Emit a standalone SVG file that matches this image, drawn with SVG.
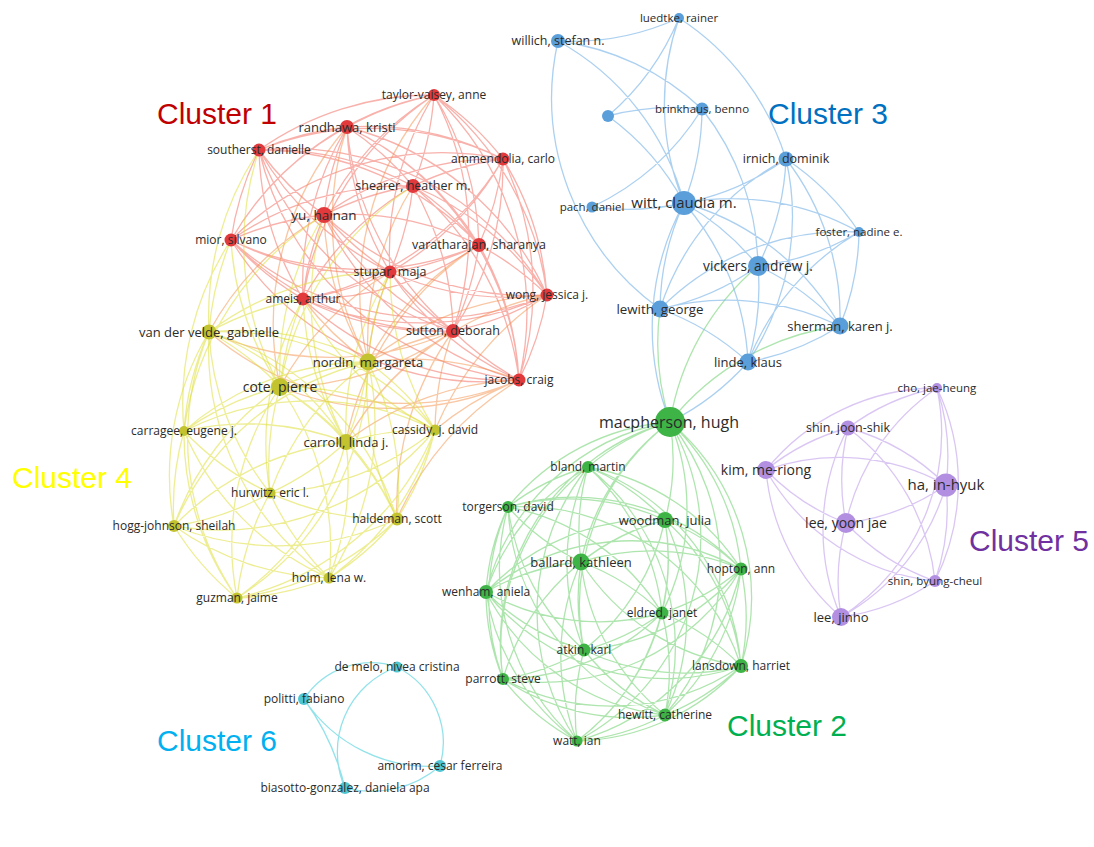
<svg xmlns="http://www.w3.org/2000/svg" width="1094" height="847" viewBox="0 0 1094 847">
<style>
.e{fill:none;stroke-width:1.3;stroke-linecap:round}
.e1{stroke:#f26458;stroke-opacity:.5}
.e7{stroke:#f39048;stroke-opacity:.5}
.e2{stroke:#6cd06c;stroke-opacity:.55}
.e3{stroke:#74b0e6;stroke-opacity:.6}
.e4{stroke:#dede3c;stroke-opacity:.55}
.e5{stroke:#c4a8ec;stroke-opacity:.65}
.e6{stroke:#80dde6;stroke-opacity:.85}
.c1{fill:#e23a3c}.c2{fill:#3db445}.c3{fill:#5b9fda}.c4{fill:#c3c330}.c5{fill:#b28fe0}.c6{fill:#4fc6d2}
text.l{font-family:"Open Sans","DejaVu Sans",sans-serif;fill:#2b2b2b;text-anchor:middle;font-size:12px}
text.t{font-family:"Liberation Sans",Arial,sans-serif;font-size:30px}
</style>
<rect width="1094" height="847" fill="#ffffff"/>
<g id="connectors">
<path class="e e1" d="M347 127A300 300 0 0 1 434 95M347 127A300 300 0 0 1 413 186M347 127A300 300 0 0 1 503 159M347 127A300 300 0 0 1 479 245M347 127A300 300 0 0 1 547 295M347 127A300 300 0 0 1 519 380M434 95A300 300 0 0 1 413 186M434 95A300 300 0 0 1 503 159M434 95A300 300 0 0 1 479 245M434 95A300 300 0 0 1 547 295M434 95A300 300 0 0 1 519 380M434 95A300 300 0 0 1 453 331M413 186A300 300 0 0 1 503 159M413 186A300 300 0 0 1 479 245M413 186A300 300 0 0 1 547 295M413 186A300 300 0 0 1 519 380M413 186A300 300 0 0 1 453 331M413 186A300 300 0 0 1 390 272M503 159A300 300 0 0 1 479 245M503 159A300 300 0 0 1 547 295M503 159A300 300 0 0 1 519 380M503 159A300 300 0 0 1 453 331M503 159A300 300 0 0 1 390 272M503 159A300 300 0 0 1 303 299M479 245A300 300 0 0 1 547 295M479 245A300 300 0 0 1 519 380M479 245A300 300 0 0 1 453 331M479 245A300 300 0 0 1 390 272M479 245A300 300 0 0 1 303 299M479 245A300 300 0 0 1 231 240M547 295A300 300 0 0 1 519 380M547 295A300 300 0 0 1 453 331M547 295A300 300 0 0 1 390 272M547 295A300 300 0 0 1 303 299M547 295A300 300 0 0 1 231 240M547 295A300 300 0 0 1 324 215M519 380A300 300 0 0 1 453 331M519 380A300 300 0 0 1 390 272M519 380A300 300 0 0 1 303 299M519 380A300 300 0 0 1 231 240M519 380A300 300 0 0 1 324 215M519 380A300 300 0 0 1 259 150M453 331A300 300 0 0 1 390 272M453 331A300 300 0 0 1 303 299M453 331A300 300 0 0 1 231 240M453 331A300 300 0 0 1 324 215M453 331A300 300 0 0 1 259 150M453 331A300 300 0 0 1 347 127M390 272A300 300 0 0 1 303 299M390 272A300 300 0 0 1 231 240M390 272A300 300 0 0 1 324 215M390 272A300 300 0 0 1 259 150M390 272A300 300 0 0 1 347 127M390 272A300 300 0 0 1 434 95M303 299A300 300 0 0 1 231 240M303 299A300 300 0 0 1 324 215M303 299A300 300 0 0 1 259 150M303 299A300 300 0 0 1 347 127M303 299A300 300 0 0 1 434 95M303 299A300 300 0 0 1 413 186M231 240A300 300 0 0 1 324 215M231 240A300 300 0 0 1 259 150M231 240A300 300 0 0 1 347 127M231 240A300 300 0 0 1 434 95M231 240A300 300 0 0 1 413 186M231 240A300 300 0 0 1 503 159M324 215A300 300 0 0 1 259 150M324 215A300 300 0 0 1 347 127M324 215A300 300 0 0 1 434 95M324 215A300 300 0 0 1 413 186M324 215A300 300 0 0 1 503 159M324 215A300 300 0 0 1 479 245M259 150A300 300 0 0 1 347 127M259 150A300 300 0 0 1 434 95M259 150A300 300 0 0 1 413 186M259 150A300 300 0 0 1 503 159M259 150A300 300 0 0 1 479 245M259 150A300 300 0 0 1 547 295"/>
<path class="e e7" d="M368 362A300 300 0 0 1 324 215M368 362A300 300 0 0 1 390 272M368 362A300 300 0 0 1 303 299M368 362A300 300 0 0 1 453 331M368 362A300 300 0 0 1 519 380M368 362A300 300 0 0 1 479 245M368 362A300 300 0 0 1 413 186M368 362A300 300 0 0 1 547 295M368 362A300 300 0 0 1 347 127M368 362A300 300 0 0 1 434 95M519 380A300 300 0 0 1 280 387M453 331A300 300 0 0 1 280 387M519 380A300 300 0 0 1 209 332M453 331A300 300 0 0 1 209 332M280 387A300 300 0 0 1 347 127M346 442A300 300 0 0 1 453 331M346 442A300 300 0 0 1 519 380M346 442A300 300 0 0 1 479 245M346 442A300 300 0 0 1 547 295M435 430A300 300 0 0 1 453 331M435 430A300 300 0 0 1 519 380M435 430A300 300 0 0 1 547 295M397 519A300 300 0 0 1 519 380M397 519A300 300 0 0 1 453 331M280 387A300 300 0 0 1 390 272M209 332A300 300 0 0 1 324 215"/>
<path class="e e4" d="M280 387A280 280 0 0 1 368 362M280 387A280 280 0 0 1 346 442M280 387A280 280 0 0 1 435 430M280 387A280 280 0 0 1 397 519M280 387A280 280 0 0 1 329 578M368 362A280 280 0 0 1 346 442M368 362A280 280 0 0 1 435 430M368 362A280 280 0 0 1 397 519M368 362A280 280 0 0 1 329 578M368 362A280 280 0 0 1 237 598M346 442A280 280 0 0 1 435 430M346 442A280 280 0 0 1 397 519M346 442A280 280 0 0 1 329 578M346 442A280 280 0 0 1 237 598M346 442A280 280 0 0 1 270 493M435 430A280 280 0 0 1 397 519M435 430A280 280 0 0 1 329 578M435 430A280 280 0 0 1 237 598M435 430A280 280 0 0 1 270 493M435 430A280 280 0 0 1 174 526M397 519A280 280 0 0 1 329 578M397 519A280 280 0 0 1 237 598M397 519A280 280 0 0 1 270 493M397 519A280 280 0 0 1 174 526M397 519A280 280 0 0 1 184 431M329 578A280 280 0 0 1 237 598M329 578A280 280 0 0 1 270 493M329 578A280 280 0 0 1 174 526M329 578A280 280 0 0 1 184 431M329 578A280 280 0 0 1 209 332M237 598A280 280 0 0 1 270 493M237 598A280 280 0 0 1 174 526M237 598A280 280 0 0 1 184 431M237 598A280 280 0 0 1 209 332M237 598A280 280 0 0 1 280 387M270 493A280 280 0 0 1 174 526M270 493A280 280 0 0 1 184 431M270 493A280 280 0 0 1 209 332M270 493A280 280 0 0 1 280 387M270 493A280 280 0 0 1 368 362M174 526A280 280 0 0 1 184 431M174 526A280 280 0 0 1 209 332M174 526A280 280 0 0 1 280 387M174 526A280 280 0 0 1 368 362M174 526A280 280 0 0 1 346 442M184 431A280 280 0 0 1 209 332M184 431A280 280 0 0 1 280 387M184 431A280 280 0 0 1 368 362M184 431A280 280 0 0 1 346 442M184 431A280 280 0 0 1 435 430M209 332A280 280 0 0 1 280 387M209 332A280 280 0 0 1 368 362M209 332A280 280 0 0 1 346 442M209 332A280 280 0 0 1 435 430M209 332A280 280 0 0 1 397 519"/>
<path class="e e4" d="M209 332A300 300 0 0 1 231 240M209 332A300 300 0 0 1 259 150M209 332A300 300 0 0 1 303 299M209 332A300 300 0 0 1 390 272M280 387A300 300 0 0 1 324 215M280 387A300 300 0 0 1 303 299M280 387A300 300 0 0 1 231 240M280 387A300 300 0 0 1 259 150M280 387A300 300 0 0 1 413 186M184 431A300 300 0 0 1 231 240M184 431A300 300 0 0 1 324 215M346 442A300 300 0 0 1 390 272M346 442A300 300 0 0 1 303 299M346 442A300 300 0 0 1 324 215M435 430A300 300 0 0 1 390 272M435 430A300 300 0 0 1 303 299M270 493A300 300 0 0 1 303 299M397 519A300 300 0 0 1 390 272"/>
<path class="e e2" d="M588 467A230 230 0 0 1 670 422M588 467A230 230 0 0 1 665 520M588 467A230 230 0 0 1 741 569M588 467A230 230 0 0 1 662 613M588 467A230 230 0 0 1 741 666M588 467A230 230 0 0 1 665 715M670 422A230 230 0 0 1 665 520M670 422A230 230 0 0 1 741 569M670 422A230 230 0 0 1 662 613M670 422A230 230 0 0 1 741 666M670 422A230 230 0 0 1 665 715M670 422A230 230 0 0 1 577 741M665 520A230 230 0 0 1 741 569M665 520A230 230 0 0 1 662 613M665 520A230 230 0 0 1 741 666M665 520A230 230 0 0 1 665 715M665 520A230 230 0 0 1 577 741M665 520A230 230 0 0 1 584 650M741 569A230 230 0 0 1 662 613M741 569A230 230 0 0 1 741 666M741 569A230 230 0 0 1 665 715M741 569A230 230 0 0 1 577 741M741 569A230 230 0 0 1 584 650M741 569A230 230 0 0 1 503 679M662 613A230 230 0 0 1 741 666M662 613A230 230 0 0 1 665 715M662 613A230 230 0 0 1 577 741M662 613A230 230 0 0 1 584 650M662 613A230 230 0 0 1 503 679M662 613A230 230 0 0 1 486 592M741 666A230 230 0 0 1 665 715M741 666A230 230 0 0 1 577 741M741 666A230 230 0 0 1 584 650M741 666A230 230 0 0 1 503 679M741 666A230 230 0 0 1 486 592M741 666A230 230 0 0 1 581 562M665 715A230 230 0 0 1 577 741M665 715A230 230 0 0 1 584 650M665 715A230 230 0 0 1 503 679M665 715A230 230 0 0 1 486 592M665 715A230 230 0 0 1 581 562M665 715A230 230 0 0 1 508 507M577 741A230 230 0 0 1 584 650M577 741A230 230 0 0 1 503 679M577 741A230 230 0 0 1 486 592M577 741A230 230 0 0 1 581 562M577 741A230 230 0 0 1 508 507M577 741A230 230 0 0 1 588 467M584 650A230 230 0 0 1 503 679M584 650A230 230 0 0 1 486 592M584 650A230 230 0 0 1 581 562M584 650A230 230 0 0 1 508 507M584 650A230 230 0 0 1 588 467M584 650A230 230 0 0 1 670 422M503 679A230 230 0 0 1 486 592M503 679A230 230 0 0 1 581 562M503 679A230 230 0 0 1 508 507M503 679A230 230 0 0 1 588 467M503 679A230 230 0 0 1 670 422M503 679A230 230 0 0 1 665 520M486 592A230 230 0 0 1 581 562M486 592A230 230 0 0 1 508 507M486 592A230 230 0 0 1 588 467M486 592A230 230 0 0 1 670 422M486 592A230 230 0 0 1 665 520M486 592A230 230 0 0 1 741 569M581 562A230 230 0 0 1 508 507M581 562A230 230 0 0 1 588 467M581 562A230 230 0 0 1 670 422M581 562A230 230 0 0 1 665 520M581 562A230 230 0 0 1 741 569M581 562A230 230 0 0 1 662 613M508 507A230 230 0 0 1 588 467M508 507A230 230 0 0 1 670 422M508 507A230 230 0 0 1 665 520M508 507A230 230 0 0 1 741 569M508 507A230 230 0 0 1 662 613M508 507A230 230 0 0 1 741 666M670 422A260 260 0 0 1 660 309M670 422A260 260 0 0 1 758 266M670 422A260 260 0 0 1 840 326"/>
<path class="e e3" d="M679 18A260 260 0 0 1 558 41M558 41A260 260 0 0 1 702 109M679 18A260 260 0 0 1 608 116M608 116A260 260 0 0 1 702 109M608 116A260 260 0 0 1 684 203M558 41A260 260 0 0 1 684 203M660 309A260 260 0 0 1 558 41M684 203A260 260 0 0 1 679 18M679 18A260 260 0 0 1 786 159M702 109A260 260 0 0 1 592 207M702 109A260 260 0 0 1 684 203M702 109A260 260 0 0 1 758 266M786 159A260 260 0 0 1 684 203M786 159A260 260 0 0 1 758 266M786 159A260 260 0 0 1 859 232M786 159A260 260 0 0 1 840 326M786 159A260 260 0 0 1 748 362M660 309A260 260 0 0 1 786 159M684 203A260 260 0 0 1 592 207M684 203A260 260 0 0 1 758 266M660 309A260 260 0 0 1 684 203M684 203A260 260 0 0 1 840 326M684 203A260 260 0 0 1 748 362M684 203A260 260 0 0 1 859 232M859 232A260 260 0 0 1 758 266M758 266A260 260 0 0 1 660 309M758 266A260 260 0 0 1 840 326M758 266A260 260 0 0 1 748 362M660 309A260 260 0 0 1 840 326M660 309A260 260 0 0 1 748 362M660 309A260 260 0 0 1 859 232M859 232A260 260 0 0 1 840 326M840 326A260 260 0 0 1 748 362M748 362A260 260 0 0 1 859 232M748 362A260 260 0 0 1 670 422M670 422A260 260 0 0 1 684 203"/>
<path class="e e5" d="M848 428A220 220 0 0 1 937 388M848 428A220 220 0 0 1 946 485M848 428A220 220 0 0 1 935 581M937 388A220 220 0 0 1 946 485M937 388A220 220 0 0 1 935 581M937 388A220 220 0 0 1 841 617M946 485A220 220 0 0 1 935 581M946 485A220 220 0 0 1 841 617M946 485A220 220 0 0 1 846 523M935 581A220 220 0 0 1 841 617M935 581A220 220 0 0 1 846 523M935 581A220 220 0 0 1 766 470M841 617A220 220 0 0 1 846 523M841 617A220 220 0 0 1 766 470M841 617A220 220 0 0 1 848 428M846 523A220 220 0 0 1 766 470M846 523A220 220 0 0 1 848 428M846 523A220 220 0 0 1 937 388M766 470A220 220 0 0 1 848 428M766 470A220 220 0 0 1 937 388M766 470A220 220 0 0 1 946 485"/>
<path class="e e6" d="M304 699A80 80 0 0 1 397 667M397 667A85 85 0 0 1 440 766M440 766A105 105 0 0 1 345 788M345 788A90 90 0 0 1 397 667M440 766A150 150 0 0 1 304 699M304 699A250 250 0 0 1 345 788"/>
</g>
<g id="n-taylor-vaisey"><circle class="c1" cx="434" cy="95" r="6"/><text class="l" x="434" y="95" dy="0.35em">taylor-vaisey, anne</text></g>
<g id="n-randhawa"><circle class="c1" cx="347" cy="127" r="7"/><text class="l" x="347" y="127" dy="0.35em" style="font-size:13px">randhawa, kristi</text></g>
<g id="n-southerst"><circle class="c1" cx="259" cy="150" r="6.5"/><text class="l" x="259" y="150" dy="0.35em">southerst, danielle</text></g>
<g id="n-ammendolia"><circle class="c1" cx="503" cy="159" r="6.5"/><text class="l" x="503" y="159" dy="0.35em">ammendolia, carlo</text></g>
<g id="n-shearer"><circle class="c1" cx="413" cy="186" r="7"/><text class="l" x="413" y="186" dy="0.35em" style="font-size:12.5px">shearer, heather m.</text></g>
<g id="n-yu"><circle class="c1" cx="324" cy="215" r="8"/><text class="l" x="324" y="215" dy="0.35em" style="font-size:13.5px">yu, hainan</text></g>
<g id="n-mior"><circle class="c1" cx="231" cy="240" r="6.5"/><text class="l" x="231" y="240" dy="0.35em">mior, silvano</text></g>
<g id="n-varatharajan"><circle class="c1" cx="479" cy="245" r="7"/><text class="l" x="479" y="245" dy="0.35em" style="font-size:12.5px">varatharajan, sharanya</text></g>
<g id="n-stupar"><circle class="c1" cx="390" cy="272" r="6.5"/><text class="l" x="390" y="272" dy="0.35em" style="font-size:12.5px">stupar, maja</text></g>
<g id="n-ameis"><circle class="c1" cx="303" cy="299" r="6.5"/><text class="l" x="303" y="299" dy="0.35em">ameis, arthur</text></g>
<g id="n-wong"><circle class="c1" cx="547" cy="295" r="6.5"/><text class="l" x="547" y="295" dy="0.35em">wong, jessica j.</text></g>
<g id="n-sutton"><circle class="c1" cx="453" cy="331" r="7"/><text class="l" x="453" y="331" dy="0.35em" style="font-size:12.5px">sutton, deborah</text></g>
<g id="n-jacobs"><circle class="c1" cx="519" cy="380" r="6.5"/><text class="l" x="519" y="380" dy="0.35em">jacobs, craig</text></g>
<g id="n-van-der-velde"><circle class="c4" cx="209" cy="332" r="7.5"/><text class="l" x="209" y="332" dy="0.35em" style="font-size:13px">van der velde, gabrielle</text></g>
<g id="n-nordin"><circle class="c4" cx="368" cy="362" r="8.5"/><text class="l" x="368" y="362" dy="0.35em" style="font-size:13px">nordin, margareta</text></g>
<g id="n-cote"><circle class="c4" cx="280" cy="387" r="9"/><text class="l" x="280" y="387" dy="0.35em" style="font-size:14px">cote, pierre</text></g>
<g id="n-carragee"><circle class="c4" cx="184" cy="431" r="5"/><text class="l" x="184" y="431" dy="0.35em">carragee, eugene j.</text></g>
<g id="n-carroll"><circle class="c4" cx="346" cy="442" r="8"/><text class="l" x="346" y="442" dy="0.35em" style="font-size:13px">carroll, linda j.</text></g>
<g id="n-cassidy"><circle class="c4" cx="435" cy="430" r="5.5"/><text class="l" x="435" y="430" dy="0.35em">cassidy, j. david</text></g>
<g id="n-hurwitz"><circle class="c4" cx="270" cy="493" r="5.5"/><text class="l" x="270" y="493" dy="0.35em">hurwitz, eric l.</text></g>
<g id="n-haldeman"><circle class="c4" cx="397" cy="519" r="6.5"/><text class="l" x="397" y="519" dy="0.35em">haldeman, scott</text></g>
<g id="n-hogg-johnson"><circle class="c4" cx="174" cy="526" r="6"/><text class="l" x="174" y="526" dy="0.35em">hogg-johnson, sheilah</text></g>
<g id="n-holm"><circle class="c4" cx="329" cy="578" r="5.5"/><text class="l" x="329" y="578" dy="0.35em">holm, lena w.</text></g>
<g id="n-guzman"><circle class="c4" cx="237" cy="598" r="5.5"/><text class="l" x="237" y="598" dy="0.35em">guzman, jaime</text></g>
<g id="n-luedtke"><circle class="c3" cx="679" cy="18" r="5"/><text class="l" x="679" y="18" dy="0.35em" style="font-size:11.5px">luedtke, rainer</text></g>
<g id="n-willich"><circle class="c3" cx="558" cy="41" r="7"/><text class="l" x="558" y="41" dy="0.35em" style="font-size:12.5px">willich, stefan n.</text></g>
<g id="n-unlabeled"><circle class="c3" cx="608" cy="116" r="6"/></g>
<g id="n-brinkhaus"><circle class="c3" cx="702" cy="109" r="6.5"/><text class="l" x="702" y="109" dy="0.35em" style="font-size:11.5px">brinkhaus, benno</text></g>
<g id="n-irnich"><circle class="c3" cx="786" cy="159" r="7.5"/><text class="l" x="786" y="159" dy="0.35em" style="font-size:12.5px">irnich, dominik</text></g>
<g id="n-pach"><circle class="c3" cx="592" cy="207" r="5.5"/><text class="l" x="592" y="207" dy="0.35em" style="font-size:11.5px">pach, daniel</text></g>
<g id="n-witt"><circle class="c3" cx="684" cy="203" r="12"/><text class="l" x="684" y="203" dy="0.35em" style="font-size:15px">witt, claudia m.</text></g>
<g id="n-foster"><circle class="c3" cx="859" cy="232" r="5"/><text class="l" x="859" y="232" dy="0.35em" style="font-size:11.5px">foster, nadine e.</text></g>
<g id="n-vickers"><circle class="c3" cx="758" cy="266" r="10"/><text class="l" x="758" y="266" dy="0.35em" style="font-size:13.7px">vickers, andrew j.</text></g>
<g id="n-lewith"><circle class="c3" cx="660" cy="309" r="8.5"/><text class="l" x="660" y="309" dy="0.35em" style="font-size:13.3px">lewith, george</text></g>
<g id="n-sherman"><circle class="c3" cx="840" cy="326" r="8.5"/><text class="l" x="840" y="326" dy="0.35em" style="font-size:13px">sherman, karen j.</text></g>
<g id="n-linde"><circle class="c3" cx="748" cy="362" r="8.5"/><text class="l" x="748" y="362" dy="0.35em" style="font-size:13px">linde, klaus</text></g>
<g id="n-macpherson"><circle class="c2" cx="670" cy="422" r="15"/><text class="l" x="669" y="422" dy="0.35em" style="font-size:16px">macpherson, hugh</text></g>
<g id="n-bland"><circle class="c2" cx="588" cy="467" r="6"/><text class="l" x="588" y="467" dy="0.35em">bland, martin</text></g>
<g id="n-torgerson"><circle class="c2" cx="508" cy="507" r="6"/><text class="l" x="508" y="507" dy="0.35em">torgerson, david</text></g>
<g id="n-woodman"><circle class="c2" cx="665" cy="520" r="8"/><text class="l" x="665" y="520" dy="0.35em" style="font-size:13px">woodman, julia</text></g>
<g id="n-ballard"><circle class="c2" cx="581" cy="562" r="8.5"/><text class="l" x="581" y="562" dy="0.35em" style="font-size:13px">ballard, kathleen</text></g>
<g id="n-hopton"><circle class="c2" cx="741" cy="569" r="6.5"/><text class="l" x="741" y="569" dy="0.35em">hopton, ann</text></g>
<g id="n-wenham"><circle class="c2" cx="486" cy="592" r="7"/><text class="l" x="486" y="592" dy="0.35em">wenham, aniela</text></g>
<g id="n-eldred"><circle class="c2" cx="662" cy="613" r="6.5"/><text class="l" x="662" y="613" dy="0.35em">eldred, janet</text></g>
<g id="n-atkin"><circle class="c2" cx="584" cy="650" r="6.5"/><text class="l" x="584" y="650" dy="0.35em">atkin, karl</text></g>
<g id="n-lansdown"><circle class="c2" cx="741" cy="666" r="7"/><text class="l" x="741" y="666" dy="0.35em">lansdown, harriet</text></g>
<g id="n-parrott"><circle class="c2" cx="503" cy="679" r="6"/><text class="l" x="503" y="679" dy="0.35em">parrott, steve</text></g>
<g id="n-hewitt"><circle class="c2" cx="665" cy="715" r="6.5"/><text class="l" x="665" y="715" dy="0.35em">hewitt, catherine</text></g>
<g id="n-watt"><circle class="c2" cx="577" cy="741" r="5.5"/><text class="l" x="577" y="741" dy="0.35em">watt, ian</text></g>
<g id="n-cho"><circle class="c5" cx="937" cy="388" r="5"/><text class="l" x="937" y="388" dy="0.35em" style="font-size:11.5px">cho, jae-heung</text></g>
<g id="n-shin-joon-shik"><circle class="c5" cx="848" cy="428" r="7.5"/><text class="l" x="848" y="428" dy="0.35em" style="font-size:12.5px">shin, joon-shik</text></g>
<g id="n-kim"><circle class="c5" cx="766" cy="470" r="9"/><text class="l" x="766" y="470" dy="0.35em" style="font-size:14px">kim, me-riong</text></g>
<g id="n-ha"><circle class="c5" cx="946" cy="485" r="11.5"/><text class="l" x="946" y="485" dy="0.35em" style="font-size:15px">ha, in-hyuk</text></g>
<g id="n-lee-yoon-jae"><circle class="c5" cx="846" cy="523" r="10"/><text class="l" x="846" y="523" dy="0.35em" style="font-size:14px">lee, yoon jae</text></g>
<g id="n-shin-byung-cheul"><circle class="c5" cx="935" cy="581" r="6"/><text class="l" x="935" y="581" dy="0.35em" style="font-size:11.5px">shin, byung-cheul</text></g>
<g id="n-lee-jinho"><circle class="c5" cx="841" cy="617" r="9"/><text class="l" x="841" y="617" dy="0.35em" style="font-size:13px">lee, jinho</text></g>
<g id="n-de-melo"><circle class="c6" cx="397" cy="667" r="5.5"/><text class="l" x="397" y="667" dy="0.35em">de melo, nivea cristina</text></g>
<g id="n-politti"><circle class="c6" cx="304" cy="699" r="6"/><text class="l" x="304" y="699" dy="0.35em">politti, fabiano</text></g>
<g id="n-amorim"><circle class="c6" cx="440" cy="766" r="6"/><text class="l" x="440" y="766" dy="0.35em">amorim, cesar ferreira</text></g>
<g id="n-biasotto"><circle class="c6" cx="345" cy="788" r="6"/><text class="l" x="345" y="788" dy="0.35em">biasotto-gonzalez, daniela apa</text></g>
<g id="cluster-titles">
<text class="t" x="157" y="124" fill="#c00000">Cluster 1</text>
<text class="t" x="727" y="736" fill="#00b050">Cluster 2</text>
<text class="t" x="768" y="124" fill="#0070c0">Cluster 3</text>
<text class="t" x="12" y="488" fill="#ffff00">Cluster 4</text>
<text class="t" x="969" y="551" fill="#7030a0">Cluster 5</text>
<text class="t" x="157" y="751" fill="#00b0f0">Cluster 6</text>
</g>
</svg>
